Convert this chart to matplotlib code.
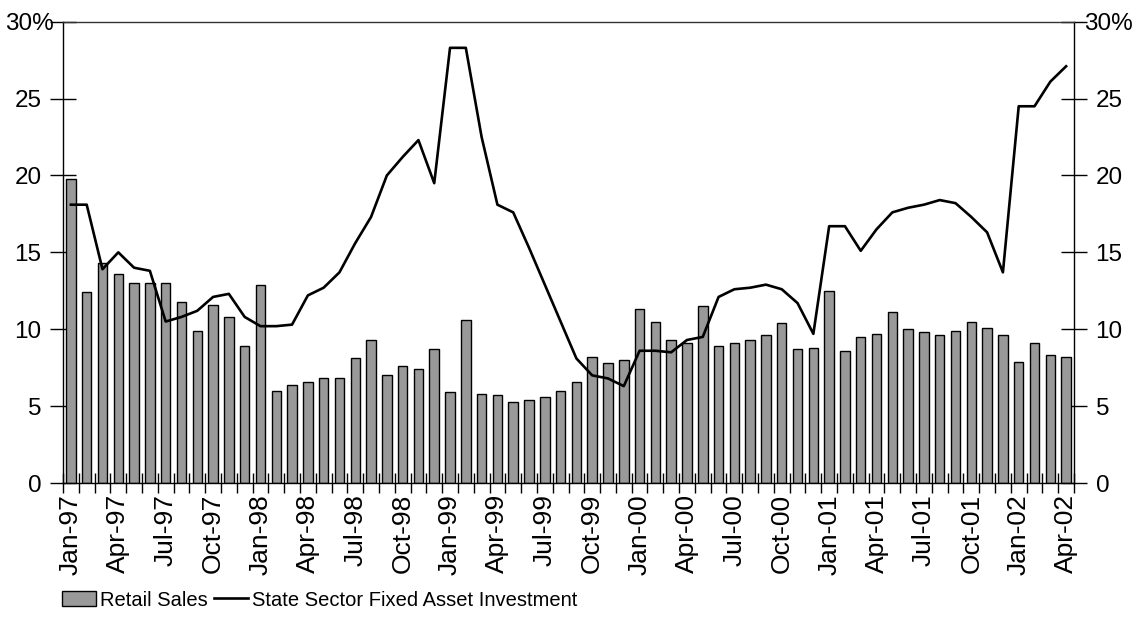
import numpy as np
import matplotlib
matplotlib.use("Agg")
import matplotlib.pyplot as plt
import matplotlib.transforms as mtransforms
from matplotlib.patches import Patch
from matplotlib.lines import Line2D

plt.rcParams['font.family'] = ['Liberation Sans', 'DejaVu Sans']

months = [f"{m}-{y:02d}" for y in range(97, 100) for m in
          ["Jan", "Feb", "Mar", "Apr", "May", "Jun", "Jul", "Aug", "Sep", "Oct", "Nov", "Dec"]]
months += [f"{m}-{y:02d}" for y in range(0, 2) for m in
           ["Jan", "Feb", "Mar", "Apr", "May", "Jun", "Jul", "Aug", "Sep", "Oct", "Nov", "Dec"]]
months += ["Jan-02", "Feb-02", "Mar-02", "Apr-02"]

retail_sales = [19.8, 12.4, 14.3, 13.6, 13.0, 13.0, 13.0, 11.8, 9.9, 11.6, 10.8, 8.9,
                12.9, 6.0, 6.4, 6.6, 6.8, 6.8, 8.1, 9.3, 7.0, 7.6, 7.4, 8.7,
                5.9, 10.6, 5.8, 5.7, 5.3, 5.4, 5.6, 6.0, 6.6, 8.2, 7.8, 8.0,
                11.3, 10.5, 9.3, 9.1, 11.5, 8.9, 9.1, 9.3, 9.6, 10.4, 8.7, 8.8,
                12.5, 8.6, 9.5, 9.7, 11.1, 10.0, 9.8, 9.6, 9.9, 10.5, 10.1, 9.6,
                7.9, 9.1, 8.3, 8.2]

state_fai = [18.1, 18.1, 13.9, 15.0, 14.0, 13.8, 10.5, 10.8, 11.2, 12.1, 12.3, 10.8,
             10.2, 10.2, 10.3, 12.2, 12.7, 13.7, 15.6, 17.3, 20.0, 21.2, 22.3, 19.5,
             28.3, 28.3, 22.5, 18.1, 17.6, 15.3, 12.9, 10.5, 8.1, 7.0, 6.8, 6.3,
             8.6, 8.6, 8.5, 9.3, 9.5, 12.1, 12.6, 12.7, 12.9, 12.6, 11.7, 9.7,
             16.7, 16.7, 15.1, 16.5, 17.6, 17.9, 18.1, 18.4, 18.2, 17.3, 16.3, 13.7,
             24.5, 24.5, 26.1, 27.1]

y_ticks = [0, 5, 10, 15, 20, 25, 30]
y_labels = ["0", "5", "10", "15", "20", "25", "30%"]

fig = plt.figure(figsize=(11.4, 6.18), dpi=100)
ax = fig.add_axes([63/1140, 1 - 483/618, (1074 - 63)/1140, (483 - 21.7)/618])

x = np.arange(len(months))
ax.bar(x, retail_sales, width=0.6, color="#999999", edgecolor="black", linewidth=1.0, zorder=2)
ax.plot(x, state_fai, color="black", linewidth=1.9, zorder=3)

ax.set_xlim(-0.5, len(months) - 0.5)
ax.set_ylim(0, 30)

for s in ax.spines.values():
    s.set_color("black")
    s.set_linewidth(1.0)
ax.spines['top'].set_color("#333333")

# category boundary ticks
ax.set_xticks(np.arange(-0.5, len(months), 1))
ax.set_xticklabels([])
ax.tick_params(axis='x', which='major', direction='inout', length=14, width=1, color="black")
# labels every 3 months
lab_idx = list(range(0, len(months), 3))
ax.set_xticks(lab_idx, minor=True)
ax.set_xticklabels([months[i] for i in lab_idx], minor=True, rotation=90, fontsize=19)
ax.tick_params(axis='x', which='minor', length=0, pad=8)

ax.set_yticks(y_ticks)
ax.set_yticklabels(y_labels, fontsize=17.5)
ax.tick_params(axis='y', direction='inout', length=19, width=1, left=True, right=True,
               labelleft=True, labelright=True, pad=6)

# the "30%" labels sit slightly toward the axis in the reference
fig.canvas.draw()
ytl = ax.yaxis.get_major_ticks()[-1]
ytl.label1.set_transform(ytl.label1.get_transform() +
                         mtransforms.ScaledTranslation(12/100, 0, fig.dpi_scale_trans))
ytl.label2.set_transform(ytl.label2.get_transform() +
                         mtransforms.ScaledTranslation(-11/100, 0, fig.dpi_scale_trans))

handles = [Patch(facecolor="#999999", edgecolor="black", linewidth=1.0),
           Line2D([0], [0], color="black", linewidth=1.9)]
fig.legend(handles, ["Retail Sales", "State Sector Fixed Asset Investment"],
           loc="center left", bbox_to_anchor=(62/1140, 1 - 600/618), ncol=2,
           frameon=False, fontsize=14.5, handlelength=1.7, handleheight=0.75,
           handletextpad=0.2, columnspacing=0.3, borderaxespad=0, borderpad=0)

fig.savefig("out.png", dpi=100)
